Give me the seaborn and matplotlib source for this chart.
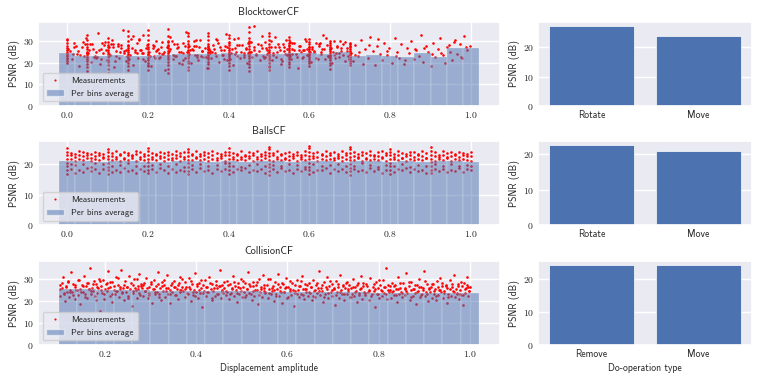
"""
PSNR vs displacement amplitude, per dataset, plus per do-operation averages
"""

import numpy as np
import matplotlib
matplotlib.use("Agg")
from matplotlib import pyplot as plt
from matplotlib.ticker import FuncFormatter, MultipleLocator
from matplotlib.lines import Line2D
from matplotlib.patches import Patch
import seaborn as sns

# ---------------- BlocktowerCF ----------------
bt_streak_x = [0.00, 0.05, 0.10, 0.15, 0.20, 0.25, 0.30, 0.35, 0.40, 0.45, 0.50, 0.55, 0.60, 0.65, 0.70]
bt_streak_y = [
    [19.8, 20.9, 21.7, 22.4, 23.1, 23.9, 24.6, 25.3, 26.2, 27.0, 28.1, 29.3, 30.6, 31.2],
    [16.2, 18.0, 19.4, 20.7, 21.9, 22.8, 23.6, 24.5, 25.3, 26.4, 27.6, 29.0, 30.9, 32.8],
    [15.3, 17.2, 18.9, 20.3, 21.5, 22.6, 23.4, 24.2, 25.1, 26.0, 27.2, 28.4, 29.9, 31.4],
    [16.8, 18.5, 20.1, 21.2, 22.3, 23.2, 24.0, 24.9, 25.8, 26.9, 28.3, 30.1, 32.6, 34.9],
    [16.9, 18.7, 20.0, 21.4, 22.5, 23.5, 24.3, 25.2, 26.3, 27.5, 28.9, 30.7, 32.9, 35.2],
    [15.1, 17.4, 19.2, 20.6, 21.8, 22.9, 23.8, 24.7, 25.7, 26.8, 28.2, 30.0, 32.5, 35.8],
    [16.6, 18.3, 19.8, 21.1, 22.2, 23.2, 24.1, 25.0, 26.1, 27.3, 28.7, 30.4, 32.3, 34.1],
    [17.8, 19.3, 20.5, 21.6, 22.6, 23.5, 24.4, 25.3, 26.4, 27.6, 29.0, 30.6, 32.4, 33.8],
    [16.9, 18.6, 20.0, 21.3, 22.4, 23.3, 24.2, 25.1, 26.0, 27.1, 28.4, 29.9, 31.6, 33.2],
    [16.1, 18.1, 19.7, 21.0, 22.2, 23.2, 24.2, 25.2, 26.3, 27.7, 29.3, 31.5, 34.2, 36.9],
    [16.8, 18.5, 19.9, 21.2, 22.3, 23.3, 24.2, 25.1, 26.1, 27.3, 28.8, 30.5, 32.3, 33.9],
    [17.9, 19.4, 20.6, 21.7, 22.6, 23.5, 24.3, 25.1, 26.0, 27.0, 28.2, 29.5, 30.8, 32.1],
    [18.8, 20.0, 21.0, 21.9, 22.7, 23.5, 24.2, 24.9, 25.7, 26.6, 27.6, 28.7, 29.8, 31.0],
    [17.2, 18.9, 20.2, 21.3, 22.2, 23.1, 23.9, 24.7, 25.5, 26.4, 27.3, 28.2, 29.1, 30.0],
    [18.9, 20.1, 21.1, 22.0, 22.8, 23.6, 24.3, 25.0, 25.7, 26.4, 27.2, 28.0, 28.7, 29.3],
]
bt_x = [
    0.003, 0.011, 0.017, 0.024, 0.029, 0.036, 0.042, 0.047, 0.053, 0.058,
    0.061, 0.066, 0.072, 0.077, 0.081, 0.085, 0.089, 0.094, 0.098, 0.103,
    0.107, 0.111, 0.116, 0.121, 0.125, 0.129, 0.134, 0.138, 0.142, 0.147,
    0.152, 0.155, 0.159, 0.164, 0.168, 0.172, 0.176, 0.181, 0.185, 0.189,
    0.193, 0.197, 0.203, 0.207, 0.212, 0.216, 0.221, 0.225, 0.229, 0.234,
    0.238, 0.243, 0.247, 0.252, 0.256, 0.261, 0.264, 0.269, 0.273, 0.278,
    0.282, 0.286, 0.291, 0.295, 0.298, 0.302, 0.307, 0.311, 0.316, 0.319,
    0.324, 0.328, 0.333, 0.337, 0.341, 0.346, 0.349, 0.014, 0.039, 0.068,
    0.092, 0.118, 0.141, 0.163, 0.187, 0.214, 0.236, 0.259, 0.284, 0.309,
    0.331, 0.057, 0.083, 0.131, 0.178, 0.227, 0.275, 0.322, 0.109, 0.201,
    0.353, 0.357, 0.362, 0.366, 0.371, 0.375, 0.379, 0.384, 0.388, 0.393,
    0.397, 0.402, 0.406, 0.411, 0.415, 0.419, 0.424, 0.428, 0.433, 0.437,
    0.442, 0.446, 0.451, 0.455, 0.459, 0.464, 0.468, 0.473, 0.477, 0.482,
    0.486, 0.491, 0.495, 0.501, 0.505, 0.509, 0.514, 0.518, 0.523, 0.527,
    0.532, 0.536, 0.541, 0.545, 0.549, 0.554, 0.558, 0.563, 0.567, 0.572,
    0.576, 0.581, 0.585, 0.589, 0.594, 0.598, 0.603, 0.607, 0.612, 0.616,
    0.621, 0.625, 0.629, 0.634, 0.638, 0.643, 0.647, 0.652, 0.656, 0.661,
    0.665, 0.669, 0.674, 0.678, 0.683, 0.687, 0.692, 0.696, 0.369, 0.417,
    0.462, 0.507, 0.553, 0.601, 0.648, 0.391, 0.438, 0.483, 0.529, 0.574,
    0.703, 0.709, 0.714, 0.721, 0.727, 0.733, 0.738, 0.744, 0.751, 0.757,
    0.762, 0.768, 0.774, 0.781, 0.786, 0.792, 0.798, 0.804, 0.811, 0.817,
    0.823, 0.828, 0.834, 0.841, 0.847, 0.852, 0.858, 0.864, 0.871, 0.876,
    0.882, 0.888, 0.894, 0.901, 0.906, 0.912, 0.918, 0.924, 0.931, 0.936,
    0.942, 0.948, 0.954, 0.961, 0.966, 0.972, 0.978, 0.984, 0.991, 0.997,
    0.006, 0.021, 0.033, 0.044, 0.051, 0.063, 0.074, 0.086, 0.096, 0.104,
    0.113, 0.122, 0.133, 0.145, 0.153, 0.161, 0.169, 0.179, 0.188, 0.196,
    0.205, 0.213, 0.219, 0.227, 0.232, 0.241, 0.249, 0.254, 0.263, 0.271,
    0.276, 0.288, 0.293, 0.301, 0.305, 0.314, 0.321, 0.326, 0.335, 0.343,
    0.348, 0.355, 0.363, 0.368, 0.374, 0.382, 0.389, 0.395, 0.401, 0.408,
    0.414, 0.421, 0.426, 0.431, 0.439, 0.444, 0.449, 0.456, 0.463, 0.469,
    0.474, 0.479, 0.487, 0.493, 0.498, 0.504, 0.511, 0.516, 0.521, 0.529,
    0.534, 0.539, 0.544, 0.551, 0.556, 0.562, 0.569, 0.574, 0.579, 0.587,
    0.592, 0.597, 0.606, 0.611, 0.617, 0.623, 0.628, 0.636, 0.641, 0.646,
    0.653, 0.659, 0.663, 0.668, 0.673, 0.679, 0.684, 0.689, 0.694, 0.699,
    0.016, 0.048, 0.079, 0.114, 0.148, 0.184, 0.217, 0.251, 0.286, 0.318,
    0.352, 0.386, 0.421, 0.454, 0.489, 0.524, 0.558, 0.593, 0.627, 0.662,
    0.027, 0.071, 0.127, 0.173, 0.223, 0.268, 0.313, 0.359, 0.404, 0.448,
    0.494, 0.538, 0.583, 0.631, 0.676, 0.712, 0.748, 0.793, 0.838, 0.883,
    0.927, 0.958, 0.975, 0.988, 0.722, 0.769, 0.814, 0.861, 0.903, 0.946,
]
bt_y = [
    26.3, 21.8, 29.4, 24.1, 18.7, 27.5, 23.2, 31.6, 25.8, 20.4,
    28.9, 22.7, 25.1, 33.8, 19.6, 26.7, 24.4, 29.9, 21.3, 27.2,
    23.6, 30.5, 17.9, 25.5, 28.1, 22.1, 26.9, 35.2, 24.8, 20.9,
    27.8, 23.9, 31.1, 19.2, 25.9, 29.1, 22.5, 26.1, 24.6, 33.0,
    21.1, 28.4, 25.3, 18.4, 27.0, 23.4, 30.2, 26.5, 22.9, 29.6,
    24.2, 16.8, 27.4, 25.7, 31.9, 21.6, 28.6, 23.1, 26.8, 20.2,
    25.0, 29.3, 22.3, 34.5, 24.9, 27.9, 19.9, 26.2, 23.7, 28.0,
    21.4, 30.8, 25.4, 22.8, 27.1, 17.6, 26.6, 24.3, 29.7, 23.0,
    28.3, 20.7, 25.6, 32.4, 22.0, 27.7, 24.0, 30.0, 19.4, 26.4,
    23.3, 28.8, 21.9, 25.2, 31.3, 24.7, 27.3, 22.6, 29.0, 18.9,
    25.7, 22.2, 28.5, 24.5, 30.6, 20.6, 27.6, 23.5, 26.0, 33.4,
    21.5, 29.2, 24.8, 19.1, 27.0, 25.3, 31.7, 22.4, 28.2, 23.8,
    26.6, 20.0, 30.3, 25.1, 22.9, 37.0, 24.1, 28.7, 21.2, 26.9,
    23.3, 29.8, 25.9, 18.2, 27.4, 24.6, 32.1, 22.7, 28.9, 26.2,
    20.8, 25.4, 30.9, 23.6, 27.9, 21.8, 26.4, 29.5, 24.3, 17.5,
    28.1, 22.5, 25.8, 31.2, 23.9, 27.2, 20.3, 26.7, 24.9, 29.1,
    22.0, 27.7, 25.2, 33.0, 21.7, 28.4, 23.4, 26.3, 19.8, 30.1,
    24.7, 27.5, 22.8, 25.6, 28.8, 20.9, 26.8, 23.1, 31.0, 24.2,
    27.3, 21.4, 29.7, 25.0, 22.6, 28.0, 24.4, 32.6, 19.5, 26.1,
    24.8, 20.7, 28.3, 23.1, 30.9, 19.6, 26.4, 22.5, 32.0, 25.7,
    18.9, 27.8, 24.2, 21.3, 29.4, 23.6, 26.9, 20.1, 31.4, 25.1,
    22.4, 28.6, 19.3, 27.1, 24.5, 30.3, 21.7, 26.0, 23.0, 33.2,
    20.4, 28.0, 24.9, 18.6, 29.1, 22.9, 26.6, 31.8, 23.7, 19.9,
    27.5, 25.3, 21.5, 30.6, 24.0, 28.9, 22.2, 32.4, 26.2, 27.9,
    25.4, 27.8, 23.6, 28.9, 24.7, 26.3, 22.9, 29.5, 25.9, 24.1,
    27.3, 23.3, 28.4, 26.0, 21.8, 27.0, 25.2, 30.7, 24.4, 26.8,
    23.0, 28.2, 25.6, 22.4, 27.5, 24.9, 29.9, 26.5, 23.7, 28.7,
    25.1, 21.5, 27.9, 24.3, 26.2, 30.1, 23.9, 27.2, 25.5, 22.7,
    28.0, 24.6, 26.7, 23.4, 29.2, 25.8, 22.0, 27.6, 24.0, 26.4,
    31.2, 23.2, 28.5, 25.0, 22.6, 27.1, 24.8, 29.6, 26.1, 23.5,
    25.7, 28.3, 22.3, 26.9, 24.5, 30.4, 23.8, 27.4, 25.3, 21.9,
    28.8, 24.2, 26.6, 23.1, 29.3, 25.9, 22.8, 27.7, 24.9, 26.0,
    30.0, 23.6, 27.2, 25.4, 22.5, 28.6, 24.1, 26.5, 31.5, 23.3,
    27.0, 25.0, 22.1, 28.1, 24.7, 26.8, 23.9, 29.7, 25.6, 21.7,
    27.3, 24.4, 26.2, 28.9, 23.0, 25.8, 22.4, 27.8, 24.6, 30.6,
    26.3, 23.5, 28.4, 25.2, 22.9, 27.5, 24.0, 26.7, 29.1, 23.7,
    25.5, 22.2, 28.7, 24.8, 26.1, 23.4, 27.9, 25.1, 21.6, 29.4,
    24.3, 27.6, 22.7, 26.4, 30.2, 23.8, 28.2, 25.7, 21.2, 26.9,
    24.5, 29.8, 22.6, 27.4, 25.3, 31.0, 23.1, 26.6, 24.2, 28.5,
]
bt_bin_x = [0.00, 0.04, 0.08, 0.12, 0.16, 0.20, 0.24, 0.28, 0.32, 0.36, 0.40, 0.44, 0.48,
            0.52, 0.56, 0.60, 0.64, 0.68, 0.72, 0.76, 0.80, 0.84, 0.88, 0.92, 0.96, 1.00]
bt_bin_avg = [24.5, 23.4, 23.4, 23.5, 23.1, 23.4, 23.8, 24.0, 24.0, 24.2, 24.5, 24.3, 24.3,
              24.2, 24.4, 24.5, 24.0, 25.0, 23.3, 23.7, 23.4, 22.6, 24.5, 22.9, 26.8, 26.8]

# ---------------- BallsCF ----------------
ball_cols = [
    0.00, 0.01, 0.02, 0.03, 0.04, 0.05, 0.06, 0.07, 0.08, 0.09,
    0.10, 0.11, 0.12, 0.13, 0.14, 0.15, 0.16, 0.17, 0.18, 0.19,
    0.20, 0.21, 0.22, 0.23, 0.24, 0.25, 0.26, 0.27, 0.28, 0.29,
    0.30, 0.31, 0.32, 0.33, 0.34, 0.35, 0.36, 0.37, 0.38, 0.39,
    0.40, 0.41, 0.42, 0.43, 0.44, 0.45, 0.46, 0.47, 0.48, 0.49,
    0.50, 0.51, 0.52, 0.53, 0.54, 0.55, 0.56, 0.57, 0.58, 0.59,
    0.60, 0.61, 0.62, 0.63, 0.64, 0.65, 0.66, 0.67, 0.68, 0.69,
    0.70, 0.71, 0.72, 0.73, 0.74, 0.75, 0.76, 0.77, 0.78, 0.79,
    0.80, 0.81, 0.82, 0.83, 0.84, 0.85, 0.86, 0.87, 0.88, 0.89,
    0.90, 0.91, 0.92, 0.93, 0.94, 0.95, 0.96, 0.97, 0.98, 0.99,
    1.00,
]
ball_y = [
    [16.8, 18.0, 19.2, 20.4, 21.6, 22.8, 24.0, 25.1],
    [21.5, 22.9, 23.6, 18.3, 20.0], [21.0, 22.2, 23.3, 17.1, 19.6], [21.7, 23.1, 24.2, 18.0],
    [21.3, 22.5, 23.8, 17.4, 20.1], [21.9, 22.8, 23.5, 18.6], [21.1, 22.0, 23.2, 17.8, 19.0],
    [21.6, 22.7, 24.0, 18.2, 20.3], [21.4, 23.0, 23.7, 17.0], [21.8, 22.3, 23.4, 18.4, 19.9],
    [16.7, 17.9, 19.1, 20.3, 21.5, 22.7, 23.9, 25.0],
    [21.2, 22.6, 23.5, 17.5, 19.2], [21.6, 22.4, 24.1, 18.1], [21.0, 22.9, 23.3, 17.3, 19.8],
    [21.5, 22.1, 23.9, 18.7], [21.3, 22.8, 23.6, 17.6, 20.2], [21.8, 22.5, 23.1, 18.0],
    [21.1, 23.2, 24.3, 17.2, 19.5], [21.7, 22.2, 23.8, 18.5], [21.4, 22.7, 23.4, 17.7, 19.3],
    [16.9, 18.1, 19.3, 20.5, 21.7, 22.9, 24.1, 25.3],
    [21.5, 22.3, 23.7, 18.2, 19.7], [21.2, 22.8, 23.2, 17.4], [21.9, 22.6, 24.0, 18.8, 20.0],
    [21.0, 22.4, 23.5, 17.9], [21.6, 23.0, 23.9, 17.1, 19.4], [21.3, 22.1, 23.3, 18.3],
    [21.8, 22.9, 24.4, 17.5, 19.9], [21.1, 22.5, 23.6, 18.1], [21.7, 22.2, 23.8, 17.8, 19.1],
    [16.6, 17.8, 19.0, 20.2, 21.4, 22.6, 23.8, 24.9],
    [21.4, 22.8, 23.4, 18.4, 19.6], [21.9, 22.3, 24.1, 17.3], [21.2, 22.7, 23.2, 18.6, 20.1],
    [21.6, 23.1, 23.9, 17.7], [21.0, 22.4, 23.6, 18.0, 19.3], [21.5, 22.9, 24.2, 17.2],
    [21.3, 22.0, 23.5, 18.5, 19.8], [21.8, 22.6, 23.3, 17.6], [21.1, 22.8, 24.0, 18.2, 20.2],
    [16.8, 18.0, 19.2, 20.4, 21.6, 22.8, 24.0, 25.2],
    [21.7, 22.4, 23.7, 17.4, 19.5], [21.2, 23.0, 23.4, 18.3], [21.6, 22.2, 24.3, 17.9, 19.0],
    [21.4, 22.7, 23.1, 18.7], [21.9, 22.5, 23.8, 17.3, 19.7], [21.0, 22.9, 23.6, 18.1],
    [21.5, 22.3, 24.1, 17.6, 20.0], [21.3, 22.6, 23.2, 18.4], [21.8, 23.1, 23.9, 17.0, 19.2],
    [16.5, 17.7, 18.9, 20.1, 21.3, 22.5, 23.7, 24.9, 25.6],
    [21.1, 22.8, 23.5, 18.2, 19.8], [21.6, 22.4, 24.2, 17.5], [21.2, 22.9, 23.3, 18.6, 19.4],
    [21.7, 22.1, 23.7, 17.8], [21.4, 22.7, 24.0, 18.0, 20.1], [21.9, 22.5, 23.4, 17.2],
    [21.0, 23.0, 23.8, 18.5, 19.6], [21.5, 22.3, 23.1, 17.7], [21.3, 22.8, 24.4, 18.3, 19.1],
    [16.7, 17.9, 19.1, 20.3, 21.5, 22.7, 23.9, 25.1, 25.9],
    [21.8, 22.6, 23.6, 17.4, 19.9], [21.1, 22.2, 23.9, 18.1], [21.6, 22.9, 23.3, 17.9, 19.3],
    [21.2, 22.5, 24.1, 18.6], [21.7, 23.1, 23.5, 17.1, 19.7], [21.4, 22.0, 23.8, 18.4],
    [21.9, 22.7, 23.2, 17.6, 20.0], [21.0, 22.4, 24.2, 18.2], [21.5, 22.9, 23.7, 17.3, 19.5],
    [16.4, 17.6, 18.8, 20.0, 21.2, 22.4, 23.6, 24.8, 25.5],
    [21.3, 22.6, 24.0, 18.5, 19.2], [21.8, 22.3, 23.4, 17.7], [21.1, 22.8, 23.9, 18.0, 20.2],
    [21.6, 22.1, 23.6, 17.4], [21.2, 23.0, 24.3, 18.7, 19.6], [21.7, 22.5, 23.1, 17.8],
    [21.4, 22.7, 23.8, 18.3, 19.0], [21.9, 22.2, 24.1, 17.2], [21.0, 22.9, 23.5, 18.1, 19.8],
    [16.8, 18.0, 19.2, 20.4, 21.6, 22.8, 24.0, 25.0],
    [21.5, 22.4, 23.3, 17.5, 19.4], [21.3, 22.8, 24.2, 18.4], [21.8, 22.1, 23.7, 17.9, 20.1],
    [21.1, 22.6, 23.4, 18.6], [21.6, 23.1, 24.0, 17.3, 19.1], [21.2, 22.3, 23.8, 18.2],
    [21.7, 22.9, 23.2, 17.6, 19.7], [21.4, 22.5, 24.4, 18.0], [21.9, 22.0, 23.6, 17.1, 19.3],
    [16.9, 18.1, 19.3, 20.5, 21.7, 22.9, 24.1, 25.4],
    [21.0, 22.7, 23.9, 18.3, 19.9], [21.5, 22.4, 23.1, 17.8], [21.3, 22.8, 24.1, 18.5, 19.2],
    [21.8, 22.2, 23.5, 17.4], [21.1, 22.6, 23.8, 18.1, 20.0], [21.6, 23.0, 23.3, 17.7],
    [21.2, 22.3, 24.0, 18.6, 19.5], [21.7, 22.9, 23.7, 17.5], [21.4, 22.5, 23.4, 18.2, 19.8],
    [21.0, 22.7, 23.9, 17.9, 19.4],
]
ball_bin_x = bt_bin_x
ball_bin_avg = [20.9, 20.9, 20.8, 20.9, 20.9, 20.8, 20.8, 20.9, 20.9, 20.8, 20.9, 20.8, 20.9,
                20.9, 20.8, 20.9, 20.9, 20.8, 20.9, 20.9, 20.8, 20.9, 20.8, 20.9, 20.9, 20.8]

# ---------------- CollisionCF ----------------
col_x = [
    0.101, 0.103, 0.106, 0.108, 0.110, 0.113, 0.115, 0.118, 0.119, 0.122, 0.124, 0.127, 0.129, 0.131,
    0.134, 0.136, 0.138, 0.141, 0.142, 0.145, 0.147, 0.150, 0.152, 0.154, 0.157, 0.159, 0.161, 0.163,
    0.166, 0.168, 0.171, 0.173, 0.175, 0.177, 0.180, 0.182, 0.184, 0.186, 0.188, 0.190,
    0.192, 0.194, 0.197, 0.198, 0.201, 0.204, 0.205, 0.208, 0.211, 0.212, 0.215, 0.217, 0.220, 0.222,
    0.224, 0.226, 0.229, 0.231, 0.233, 0.236, 0.238, 0.240, 0.243, 0.245, 0.247, 0.249, 0.252, 0.254,
    0.256, 0.259, 0.261, 0.263, 0.265, 0.268, 0.270, 0.272, 0.274, 0.276, 0.278, 0.280,
    0.282, 0.285, 0.287, 0.289, 0.291, 0.294, 0.296, 0.298, 0.301, 0.303, 0.305, 0.307, 0.310, 0.312,
    0.314, 0.317, 0.319, 0.321, 0.323, 0.326, 0.328, 0.330, 0.333, 0.335, 0.337, 0.339, 0.342, 0.344,
    0.346, 0.348, 0.351, 0.353, 0.355, 0.358, 0.360, 0.362, 0.364, 0.366, 0.368, 0.370,
    0.372, 0.375, 0.377, 0.379, 0.382, 0.384, 0.386, 0.388, 0.391, 0.393, 0.395, 0.397, 0.400, 0.402,
    0.404, 0.407, 0.409, 0.411, 0.413, 0.416, 0.418, 0.420, 0.422, 0.425, 0.427, 0.429, 0.432, 0.434,
    0.436, 0.438, 0.441, 0.443, 0.445, 0.447, 0.450, 0.452, 0.454, 0.456, 0.458, 0.460,
    0.462, 0.465, 0.467, 0.469, 0.472, 0.474, 0.476, 0.478, 0.481, 0.483, 0.485, 0.487, 0.490, 0.492,
    0.494, 0.497, 0.499, 0.501, 0.503, 0.506, 0.508, 0.510, 0.512, 0.515, 0.517, 0.519, 0.522, 0.524,
    0.526, 0.528, 0.531, 0.533, 0.535, 0.537, 0.540, 0.542, 0.544, 0.546, 0.548, 0.550,
    0.552, 0.555, 0.557, 0.559, 0.562, 0.564, 0.566, 0.568, 0.571, 0.573, 0.575, 0.577, 0.580, 0.582,
    0.584, 0.587, 0.589, 0.591, 0.593, 0.596, 0.598, 0.600, 0.602, 0.605, 0.607, 0.609, 0.612, 0.614,
    0.616, 0.618, 0.621, 0.623, 0.625, 0.627, 0.630, 0.632, 0.634, 0.636, 0.638, 0.640,
    0.642, 0.645, 0.647, 0.649, 0.652, 0.654, 0.656, 0.658, 0.661, 0.663, 0.665, 0.667, 0.670, 0.672,
    0.674, 0.677, 0.679, 0.681, 0.683, 0.686, 0.688, 0.690, 0.692, 0.695, 0.697, 0.699, 0.702, 0.704,
    0.706, 0.708, 0.711, 0.713, 0.715, 0.717, 0.720, 0.722, 0.724, 0.726, 0.728, 0.730,
    0.732, 0.735, 0.737, 0.739, 0.742, 0.744, 0.746, 0.748, 0.751, 0.753, 0.755, 0.757, 0.760, 0.762,
    0.764, 0.767, 0.769, 0.771, 0.773, 0.776, 0.778, 0.780, 0.782, 0.785, 0.787, 0.789, 0.792, 0.794,
    0.796, 0.798, 0.801, 0.803, 0.805, 0.807, 0.810, 0.812, 0.814, 0.816, 0.818, 0.820,
    0.822, 0.825, 0.827, 0.829, 0.832, 0.834, 0.836, 0.838, 0.841, 0.843, 0.845, 0.847, 0.850, 0.852,
    0.854, 0.857, 0.859, 0.861, 0.863, 0.866, 0.868, 0.870, 0.872, 0.875, 0.877, 0.879, 0.882, 0.884,
    0.886, 0.888, 0.891, 0.893, 0.895, 0.897, 0.900, 0.902, 0.904, 0.906, 0.908, 0.910,
    0.912, 0.915, 0.917, 0.919, 0.922, 0.924, 0.926, 0.928, 0.931, 0.933, 0.935, 0.937, 0.940, 0.942,
    0.944, 0.947, 0.949, 0.951, 0.953, 0.956, 0.958, 0.960, 0.962, 0.965, 0.967, 0.969, 0.972, 0.974,
    0.976, 0.978, 0.981, 0.983, 0.985, 0.987, 0.990, 0.992, 0.994, 0.996, 0.998, 1.000,
    0.102, 0.107, 0.111, 0.116, 0.120, 0.125, 0.130, 0.134, 0.139, 0.143, 0.148, 0.152, 0.157, 0.161,
    0.166, 0.171, 0.175, 0.179, 0.184, 0.189, 0.193, 0.198, 0.202, 0.207, 0.211, 0.216, 0.220, 0.225,
    0.230, 0.234, 0.239, 0.243, 0.248, 0.252, 0.257, 0.261, 0.266, 0.270, 0.275, 0.279,
    0.284, 0.289, 0.293, 0.298, 0.302, 0.307, 0.311, 0.316, 0.320, 0.325, 0.329, 0.334, 0.339, 0.343,
    0.348, 0.352, 0.357, 0.361, 0.366, 0.370, 0.375, 0.380, 0.384, 0.389, 0.393, 0.398, 0.402, 0.407,
    0.411, 0.416, 0.421, 0.425, 0.430, 0.434, 0.439, 0.443, 0.448, 0.452, 0.457, 0.461,
    0.466, 0.470, 0.475, 0.479, 0.484, 0.489, 0.493, 0.498, 0.502, 0.507, 0.511, 0.516, 0.520, 0.525,
    0.530, 0.534, 0.539, 0.543, 0.548, 0.552, 0.557, 0.561, 0.566, 0.571, 0.575, 0.580, 0.584, 0.589,
    0.593, 0.598, 0.602, 0.607, 0.611, 0.616, 0.621, 0.625, 0.630, 0.634, 0.639, 0.643,
    0.648, 0.652, 0.657, 0.661, 0.666, 0.670, 0.675, 0.680, 0.684, 0.689, 0.693, 0.698, 0.702, 0.707,
    0.711, 0.716, 0.721, 0.725, 0.730, 0.734, 0.739, 0.743, 0.748, 0.752, 0.757, 0.761, 0.766, 0.771,
    0.775, 0.780, 0.784, 0.789, 0.793, 0.798, 0.802, 0.807, 0.811, 0.816, 0.821, 0.825,
    0.830, 0.834, 0.839, 0.843, 0.848, 0.852, 0.857, 0.861, 0.866, 0.871, 0.875, 0.880, 0.884, 0.889,
    0.893, 0.898, 0.902, 0.907, 0.911, 0.916, 0.921, 0.925, 0.930, 0.934, 0.939, 0.943, 0.948, 0.952,
    0.957, 0.961, 0.966, 0.971, 0.975, 0.980, 0.984, 0.989, 0.993, 0.998, 0.996, 0.979,
]
col_y = [
    27.4, 22.1, 25.8, 30.6, 23.5, 19.8, 26.9, 24.2, 28.7, 21.6, 25.1, 32.9, 23.9, 27.8,
    20.7, 26.3, 24.8, 29.5, 22.6, 25.6, 18.4, 27.1, 24.0, 31.4, 23.2, 26.6, 21.3, 28.2,
    25.3, 35.1, 22.9, 26.0, 24.5, 29.1, 20.2, 27.6, 23.7, 25.9, 30.1, 15.6,
    26.8, 23.4, 29.3, 21.0, 25.5, 27.9, 24.3, 33.6, 22.4, 26.2, 19.5, 28.4, 25.0, 23.1,
    30.8, 24.7, 27.3, 21.9, 26.5, 34.2, 23.8, 25.7, 20.6, 28.9, 24.1, 26.4, 22.2, 31.2,
    25.2, 17.8, 27.0, 23.6, 29.8, 24.9, 21.4, 26.7, 25.4, 32.3, 22.8, 27.5,
    25.9, 22.3, 28.1, 24.4, 30.4, 21.1, 26.3, 23.7, 27.7, 19.2, 25.3, 29.6, 22.9, 26.8,
    24.0, 33.1, 23.3, 25.8, 20.4, 28.5, 24.6, 27.2, 21.7, 26.0, 31.6, 23.0, 25.1, 18.9,
    27.4, 24.2, 29.0, 22.5, 26.5, 25.6, 20.8, 28.3, 23.9, 30.9, 24.8, 26.1,
    24.5, 28.6, 21.8, 26.2, 23.2, 30.2, 25.5, 19.9, 27.5, 22.7, 25.0, 32.7, 24.1, 26.9,
    21.2, 28.0, 23.6, 25.7, 17.3, 27.1, 24.3, 29.4, 22.1, 26.4, 23.8, 31.0, 25.2, 20.5,
    27.8, 24.7, 22.4, 28.8, 25.9, 23.0, 26.6, 34.0, 21.5, 24.9, 27.3, 23.4,
    26.0, 22.8, 29.2, 24.2, 20.9, 27.6, 23.5, 25.4, 31.5, 22.0, 26.7, 24.8, 19.4, 28.2,
    23.1, 25.9, 30.0, 21.6, 26.3, 24.0, 27.9, 22.5, 25.3, 33.3, 23.7, 26.9, 20.3, 28.6,
    24.5, 22.2, 27.0, 25.1, 18.6, 29.7, 23.9, 26.1, 21.9, 31.8, 24.6, 25.7,
    23.5, 27.3, 21.4, 25.6, 29.8, 22.9, 24.7, 26.8, 20.1, 28.4, 23.3, 25.2, 32.1, 22.3,
    26.5, 24.1, 19.0, 27.7, 23.8, 25.8, 30.5, 21.2, 26.2, 24.4, 28.9, 22.6, 25.0, 17.9,
    27.1, 23.6, 29.3, 24.9, 21.8, 26.6, 23.0, 31.2, 25.5, 20.7, 27.5, 24.2,
    25.4, 22.1, 28.0, 23.7, 26.3, 20.5, 29.6, 24.3, 21.9, 27.2, 23.4, 25.9, 33.7, 22.7,
    26.0, 24.6, 19.6, 28.5, 23.1, 25.2, 30.7, 21.4, 26.7, 24.0, 22.4, 27.8, 25.6, 18.3,
    29.0, 23.9, 26.4, 21.1, 31.9, 24.8, 23.2, 27.4, 20.2, 25.7, 28.3, 22.9,
    24.4, 27.0, 21.7, 25.8, 23.0, 29.9, 22.2, 26.2, 24.7, 19.3, 28.1, 23.5, 25.5, 31.4,
    21.0, 26.8, 24.1, 22.6, 27.6, 23.8, 20.4, 25.1, 30.2, 22.9, 26.5, 24.3, 17.4, 28.7,
    23.3, 25.7, 21.5, 27.3, 24.9, 22.0, 29.4, 23.6, 26.1, 35.0, 20.9, 25.0,
    23.9, 26.6, 21.3, 28.3, 24.5, 22.5, 27.1, 25.3, 19.7, 30.8, 23.1, 26.0, 24.0, 21.8,
    27.9, 22.8, 25.6, 32.5, 23.4, 26.9, 20.6, 24.8, 28.6, 22.1, 25.2, 23.7, 18.7, 27.4,
    24.6, 29.7, 21.6, 26.3, 23.0, 25.9, 33.4, 22.4, 24.2, 27.7, 20.0, 25.4,
    24.1, 26.4, 21.2, 27.8, 23.3, 25.5, 20.3, 28.9, 22.7, 25.0, 30.4, 23.8, 26.7, 21.5,
    24.6, 27.2, 19.1, 25.8, 23.0, 29.6, 22.3, 26.1, 24.4, 31.7, 21.9, 25.3, 23.6, 27.5,
    20.8, 24.9, 22.6, 26.8, 18.0, 28.2, 23.4, 25.7, 30.9, 22.0, 24.7, 26.3,
    25.6, 27.9, 23.1, 26.4, 28.8, 24.2, 22.7, 27.2, 25.0, 29.6, 23.8, 26.7, 21.9, 28.3,
    25.4, 24.5, 27.5, 22.4, 26.1, 29.1, 24.9, 23.3, 27.8, 25.8, 28.5, 22.9, 26.9, 24.4,
    30.3, 25.2, 23.6, 27.0, 26.3, 21.5, 28.1, 24.7, 25.9, 29.8, 23.4, 26.6,
    27.1, 24.3, 26.0, 22.8, 28.6, 25.5, 23.9, 27.6, 21.7, 26.8, 29.3, 24.6, 25.7, 23.0,
    28.0, 26.2, 22.5, 27.4, 24.8, 30.1, 25.3, 23.5, 26.5, 28.9, 24.1, 22.2, 27.7, 25.1,
    29.5, 23.7, 26.3, 24.0, 28.2, 21.4, 25.8, 27.3, 23.2, 26.7, 24.4, 28.7,
    24.6, 27.0, 22.9, 25.9, 28.4, 23.6, 26.2, 24.3, 29.0, 21.8, 25.4, 27.8, 23.1, 26.6,
    24.9, 28.5, 22.6, 25.6, 27.2, 24.1, 29.7, 23.4, 26.0, 25.1, 22.3, 27.5, 24.7, 28.1,
    23.8, 26.4, 21.6, 25.2, 27.9, 24.4, 23.0, 26.8, 28.8, 22.7, 25.5, 27.4,
    23.9, 26.5, 22.4, 25.0, 28.3, 24.5, 27.1, 21.9, 26.1, 23.5, 29.2, 24.8, 25.7, 22.8,
    27.6, 24.2, 26.9, 23.3, 28.6, 25.3, 21.7, 26.3, 24.0, 27.3, 22.6, 25.8, 28.0, 23.7,
    26.6, 24.6, 22.1, 27.7, 25.4, 23.1, 29.4, 24.3, 26.2, 22.9, 27.0, 25.1,
    24.2, 26.8, 22.7, 25.5, 27.9, 23.4, 26.0, 24.7, 28.4, 21.8, 25.2, 27.2, 23.8, 26.5,
    22.5, 24.9, 28.9, 23.1, 25.8, 27.5, 24.4, 22.2, 26.3, 25.0, 28.2, 23.6, 26.9, 21.9,
    25.6, 27.8, 24.1, 23.0, 26.6, 28.6, 22.8, 25.3, 27.0, 24.5, 26.1, 23.3,
]
col_bin_x = [0.12, 0.16, 0.20, 0.24, 0.28, 0.32, 0.36, 0.40, 0.44, 0.48, 0.52, 0.56,
             0.60, 0.64, 0.68, 0.72, 0.76, 0.80, 0.84, 0.88, 0.92, 0.96, 1.00]
col_bin_avg = [25.2, 25.3, 25.0, 24.9, 24.9, 24.7, 24.6, 24.6, 24.4, 24.3, 24.3, 24.1,
               24.0, 24.0, 23.9, 23.8, 23.8, 23.7, 23.7, 23.6, 23.6, 23.5, 23.5]

# ---------------- per do-operation averages ----------------
bt_ops, bt_ops_psnr = ["Rotate", "Move"], [27.3, 23.9]
ball_ops, ball_ops_psnr = ["Rotate", "Move"], [22.5, 21.0]
col_ops, col_ops_psnr = ["Remove", "Move"], [24.0, 24.1]

BLUE = "#4c72b0"
RED = "#ff0000"

sns.set_theme(style="darkgrid")
plt.rcParams["font.family"] = ["cmss10", "DejaVu Sans"]
plt.rcParams["mathtext.fontset"] = "cm"
plt.rcParams["axes.unicode_minus"] = False

fig = plt.figure(figsize=(7.61, 3.81), dpi=100)

rows = [
    ("BlocktowerCF", 0.722, 39.0,
     [x for x, ys in zip(bt_streak_x, bt_streak_y) for _ in ys] + bt_x,
     [y for ys in bt_streak_y for y in ys] + bt_y,
     bt_bin_x, bt_bin_avg, bt_ops, bt_ops_psnr),
    ("BallsCF", 0.409, 27.4,
     [x for x, ys in zip(ball_cols, ball_y) for _ in ys],
     [y for ys in ball_y for y in ys],
     ball_bin_x, ball_bin_avg, ball_ops, ball_ops_psnr),
    ("CollisionCF", 0.0945, 38.0, col_x, col_y,
     col_bin_x, col_bin_avg, col_ops, col_ops_psnr),
]

num_fmt1 = FuncFormatter(lambda v, p: f"${v:.1f}$")
num_fmt0 = FuncFormatter(lambda v, p: f"${v:.0f}$")

for i, (name, bottom, ytop, px, py, bx, bavg, ops, ops_psnr) in enumerate(rows):
    ax = fig.add_axes([0.050, bottom, 0.607, 0.22])
    sns.scatterplot(x=px, y=py, s=3.5, color=RED, linewidth=0, ax=ax, legend=False)
    ax.bar(bx, bavg, width=0.04, color=BLUE, alpha=0.5, edgecolor="white", linewidth=0.3)
    ax.set_ylim(0, ytop)
    ax.yaxis.set_major_locator(MultipleLocator(10))
    ax.set_title(name, fontsize=7.5, pad=5)
    ax.set_ylabel("PSNR (dB)", fontsize=7, labelpad=2)
    ax.xaxis.set_major_formatter(num_fmt1)
    ax.yaxis.set_major_formatter(num_fmt0)
    ax.tick_params(labelsize=7, length=0, pad=3)
    handles = [
        Line2D([], [], marker="o", linestyle="", markersize=1.5, color=RED, markeredgewidth=0),
        Patch(facecolor=BLUE, alpha=0.5),
    ]
    ax.legend(handles, ["Measurements", "Per bins average"], loc="lower left", fontsize=6.5,
              frameon=True)
    if i == 2:
        ax.set_xlabel("Displacement amplitude", fontsize=7, labelpad=3)

    axr = fig.add_axes([0.707, bottom, 0.281, 0.22])
    sns.barplot(x=ops, y=ops_psnr, color=BLUE, saturation=1, ax=axr,
                edgecolor="white", linewidth=0.5)
    axr.yaxis.set_major_locator(MultipleLocator(10))
    axr.set_ylabel("PSNR (dB)", fontsize=7, labelpad=2)
    axr.yaxis.set_major_formatter(num_fmt0)
    axr.tick_params(axis="y", labelsize=7, length=0, pad=3)
    axr.tick_params(axis="x", labelsize=7, length=0, pad=3)
    if i == 2:
        axr.set_xlabel("Do-operation type", fontsize=7, labelpad=3)

fig.savefig("out.png", dpi=100)
